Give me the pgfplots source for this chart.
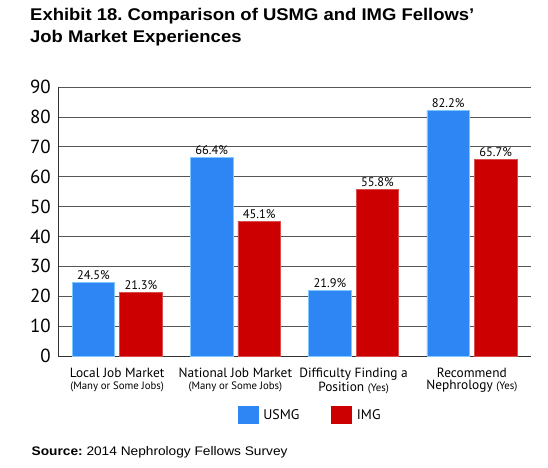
\documentclass[border=0pt]{standalone}
\usepackage{pgfplots}
\pgfplotsset{compat=1.18}
\usepackage{fontspec}
\setmainfont{PT Sans}
\newfontfamily\headfont[FakeStretch=1.09]{Liberation Sans}
\newfontfamily\srcfont[FakeStretch=1.1]{Liberation Sans}

\definecolor{usmg}{HTML}{2E86F5}
\definecolor{usmgedge}{HTML}{7CC8FF}
\definecolor{img}{HTML}{CC0000}
\definecolor{gridgray}{HTML}{555555}

\newcommand{\sub}{\fontsize{10.8}{12}\selectfont}

\begin{document}
\frenchspacing
\begin{tikzpicture}
\useasboundingbox (-58bp,-112bp) rectangle (490bp,356bp);
\begin{axis}[
    at={(0,0)}, anchor=south west,
    scale only axis,
    width=473bp, height=269bp,
    ybar=5bp, bar width=42.5bp,
    xmin=-0.5, xmax=3.5,
    ymin=0, ymax=90,
    ytick={0,10,...,90},
    xtick={0,1,2,3},
    xticklabels={
        {Local Job Market\\{\sub (Many or Some Jobs)}},
        {National Job Market\\{\sub (Many or Some Jobs)}},
        {Difficulty Finding a\\Position {\sub (Yes)}},
        {Recommend\\Nephrology {\sub (Yes)}}},
    extra x ticks={0.5,1.5,2.5},
    extra x tick labels={},
    extra x tick style={major tick length=5bp, tick style={draw=gray, line width=0.6bp}},
    major x tick style={draw=none},
    ytick style={draw=none},
    axis x line*=bottom, axis y line*=left,
    axis line style={draw=black!80, line width=0.8bp},
    ymajorgrids, grid style={draw=gridgray, line width=0.6bp},
    tick pos=left,
    /pgf/number format/assume math mode=true,
    yticklabel style={font=\fontsize{19}{19}\selectfont, inner sep=0pt, xshift=-7bp},
    xticklabel style={font=\fontsize{13.4}{12}\selectfont, align=center, inner sep=0pt, yshift=-8bp},
    nodes near coords={\pgfmathprintnumber[fixed,fixed zerofill,precision=1]{\pgfplotspointmeta}\%},
    every node near coord/.append style={font=\fontsize{12.5}{13}\selectfont, inner sep=2.5bp, black},
    legend columns=2,
    legend style={draw=none, at={(0.533,-0.219)}, anchor=center,
        font=\fontsize{14}{14}\selectfont,
        /tikz/every even column/.append style={column sep=30bp},
        /tikz/every odd column/.append style={column sep=3bp}},
]
\addplot[fill=usmg, draw=usmgedge, line width=0.7bp,
    legend image code/.code={\fill[usmg] (0bp,-8.3bp) rectangle (20bp,8.3bp);}]
    coordinates {(0,24.5) (1,66.4) (2,21.9) (3,82.2)};
\addplot[fill=img, draw=img!70!white, line width=0.5bp,
    legend image code/.code={\fill[img] (0bp,-8.3bp) rectangle (20bp,8.3bp);}]
    coordinates {(0,21.3) (1,45.1) (2,55.8) (3,65.7)};
\legend{USMG, IMG}
\end{axis}
\node[anchor=base west, inner sep=0pt, font=\headfont\bfseries\fontsize{17}{18}\selectfont]
    at (-28bp,335.5bp) {Exhibit 18. Comparison of USMG and IMG Fellows’};
\node[anchor=base west, inner sep=0pt, font=\headfont\bfseries\fontsize{17}{18}\selectfont]
    at (-28bp,313.3bp) {Job Market Experiences};
\node[anchor=base west, inner sep=0pt, font=\srcfont\fontsize{12.5}{14}\selectfont]
    at (-26.5bp,-99bp) {\textbf{Source:} 2014 Nephrology Fellows Survey};
\end{tikzpicture}
\end{document}
